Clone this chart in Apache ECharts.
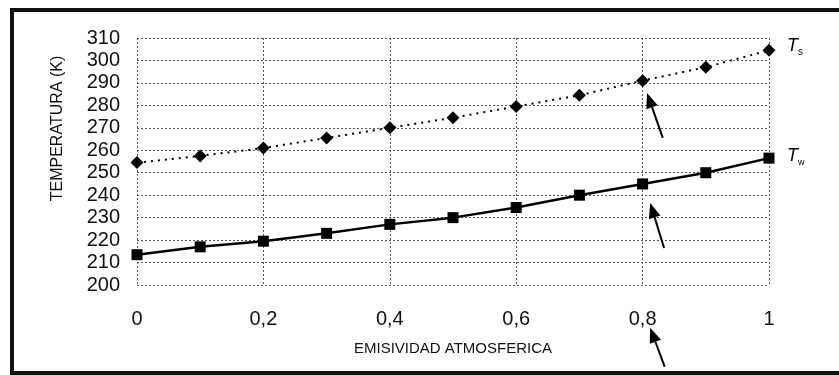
<!DOCTYPE html>
<html>
<head>
<meta charset="utf-8">
<script src="https://cdn.jsdelivr.net/npm/echarts@6/dist/echarts.min.js"></script>
<style>html,body{margin:0;padding:0;background:#fff;}#c{width:839px;height:375px;}</style>
</head>
<body>
<div id="c"></div>
<script>
var emisividad = [0, 0.1, 0.2, 0.3, 0.4, 0.5, 0.6, 0.7, 0.8, 0.9, 1.0];
var tempTs = [254.5, 257.5, 261, 265.5, 270, 274.5, 279.5, 284.5, 291, 297, 304.5];
var tempTw = [213.5, 217, 219.5, 223, 227, 230, 234.5, 240, 245, 250, 256.5];
var yTicks = {min: 200, max: 310, step: 10};
var xTicks = {min: 0, max: 1, step: 0.2};
// annotation arrows: [tail, tip] in data coordinates
var arrows = [
  [[0.832, 265.5], [0.807, 285.5]],
  [[0.834, 216.5], [0.812, 236.5]],
  [[0.835, 163.5], [0.812, 181]]
];

var chart = echarts.init(document.getElementById('c'));
var font = '"Liberation Sans", Arial, sans-serif';
function pairs(vals){ return emisividad.map(function(x,i){ return [x, vals[i]]; }); }

var option = {
  animation: false,
  backgroundColor: '#fff',
  grid: {left: 137, right: 70, top: 38, bottom: 90},
  xAxis: {
    type: 'value', min: xTicks.min, max: xTicks.max, interval: xTicks.step,
    name: 'EMISIVIDAD ATMOSFERICA', nameLocation: 'middle', nameGap: 56,
    nameTextStyle: {fontFamily: font, fontSize: 15, color: '#111'},
    axisLine: {show: false}, axisTick: {show: false},
    axisLabel: {margin: 24, fontFamily: font, fontSize: 20, color: '#111',
      formatter: function(v){ return String(Math.round(v*10)/10).replace('.', ','); }},
    splitLine: {show: true, lineStyle: {color: '#555', type: [2, 2], width: 1}}
  },
  yAxis: {
    type: 'value', min: yTicks.min, max: yTicks.max, interval: yTicks.step,
    name: 'TEMPERATURA (K)', nameLocation: 'middle', nameGap: 71,
    nameTextStyle: {fontFamily: font, fontSize: 16, color: '#111', padding: [0, 0, 0, 66]},
    axisLine: {show: false}, axisTick: {show: false},
    axisLabel: {margin: 17, fontFamily: font, fontSize: 20, color: '#111'},
    splitLine: {show: true, lineStyle: {color: '#555', type: [2, 2], width: 1}}
  },
  series: [
    {
      name: 'Ts', type: 'line', data: pairs(tempTs),
      symbol: 'diamond', symbolSize: 13,
      itemStyle: {color: '#000'},
      lineStyle: {color: '#000', width: 2, type: [2, 5]},
      endLabel: {show: true, distance: 18, offset: [0, -4], formatter: '{t|T}{s|s}',
        rich: {t: {fontFamily: font, fontStyle: 'italic', fontSize: 18, color: '#000'},
               s: {fontFamily: font, fontSize: 10, color: '#000', verticalAlign: 'bottom', padding: [12,0,0,0]}}},
      z: 3
    },
    {
      name: 'Tw', type: 'line', data: pairs(tempTw),
      symbol: 'rect', symbolSize: 11,
      itemStyle: {color: '#000'},
      lineStyle: {color: '#000', width: 2.5},
      endLabel: {show: true, distance: 18, offset: [0, -2], formatter: '{t|T}{s|w}',
        rich: {t: {fontFamily: font, fontStyle: 'italic', fontSize: 18, color: '#000'},
               s: {fontFamily: font, fontSize: 9, color: '#000', verticalAlign: 'bottom', padding: [12,0,0,0]}}},
      z: 3
    }
  ]
};
chart.setOption(option);

var g = [{
  type: 'rect', shape: {x: 12, y: 10, width: 840, height: 363},
  style: {fill: 'none', stroke: '#111', lineWidth: 4}, z: 10
}];
arrows.forEach(function(a){
  var p0 = chart.convertToPixel({gridIndex: 0}, a[0]);
  var p1 = chart.convertToPixel({gridIndex: 0}, a[1]);
  var dx = p1[0]-p0[0], dy = p1[1]-p0[1];
  var L = Math.sqrt(dx*dx+dy*dy), ux = dx/L, uy = dy/L;
  var hl = 15, hw = 6;
  var bx = p1[0]-ux*hl, by = p1[1]-uy*hl;
  g.push({type: 'line', shape: {x1: p0[0], y1: p0[1], x2: bx, y2: by},
    style: {stroke: '#000', lineWidth: 2}, z: 10});
  g.push({type: 'polygon', shape: {points: [[p1[0],p1[1]],[bx-uy*hw, by+ux*hw],[bx+uy*hw, by-ux*hw]]},
    style: {fill: '#000'}, z: 10});
});
chart.setOption({graphic: g});
</script>
</body>
</html>
